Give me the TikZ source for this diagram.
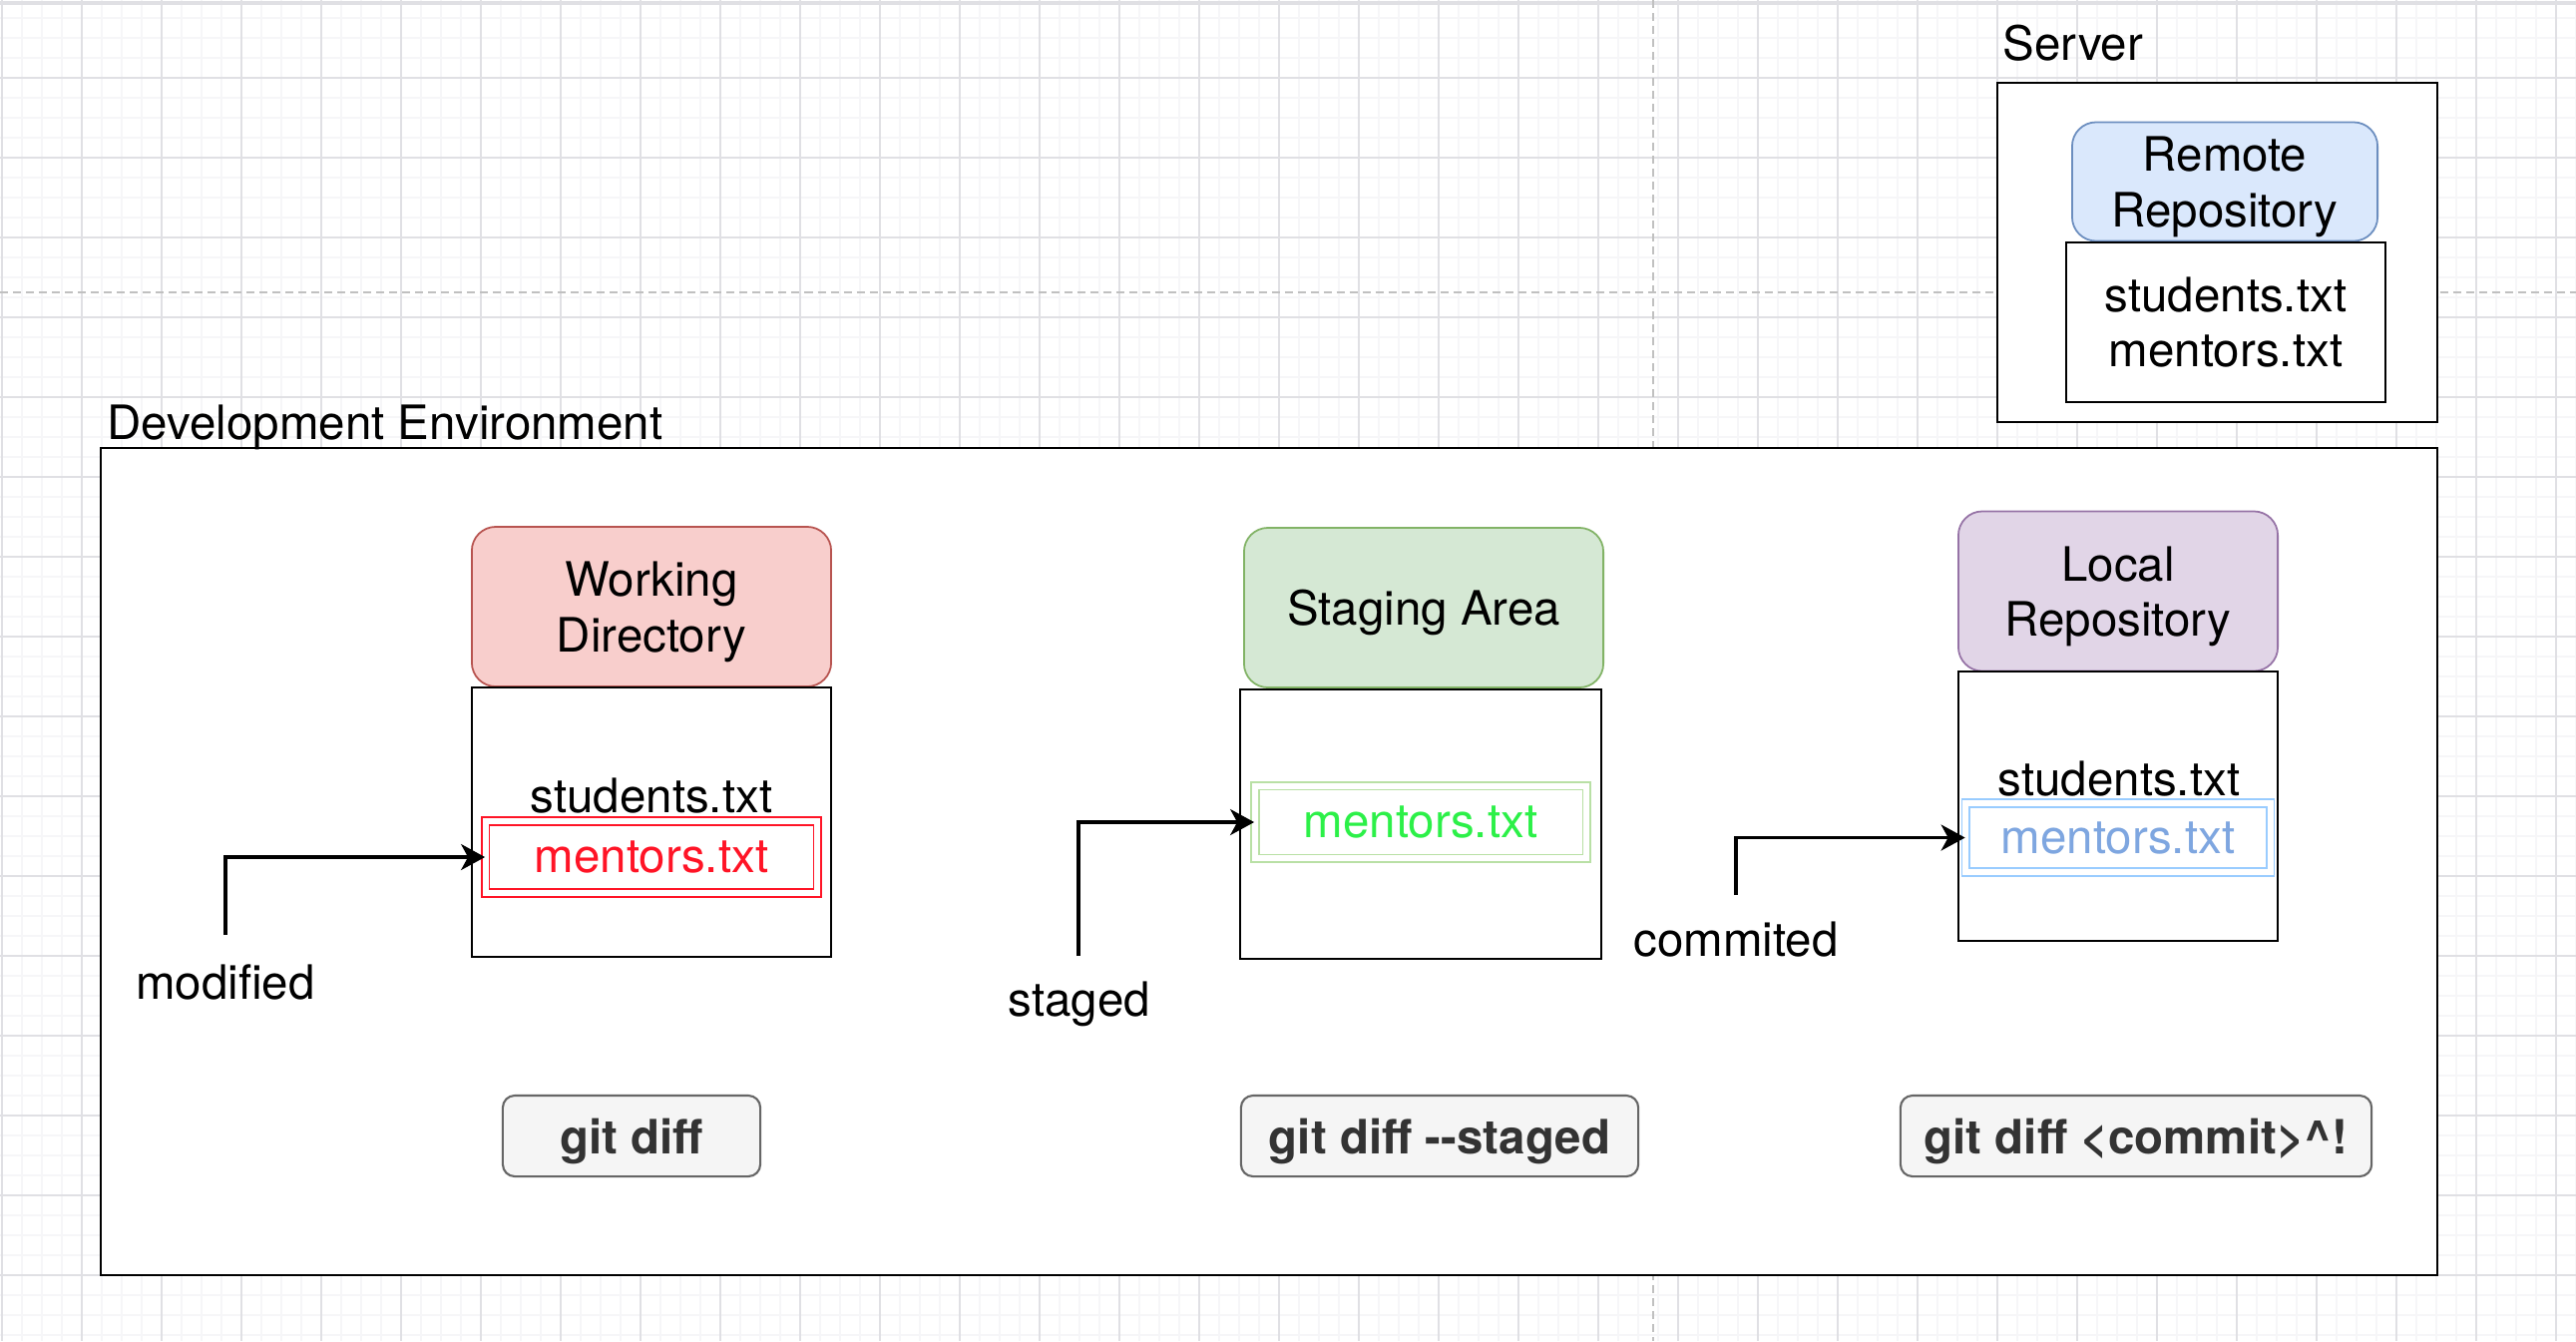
\documentclass[tikz,border=0pt]{standalone}
\usepackage{fontspec}
\setmainfont{TeX Gyre Heros}
\usepackage{xcolor}
\usepackage{tikz}
\usetikzlibrary{arrows.meta}
\definecolor{wdfill}{HTML}{F8CECC}\definecolor{wdline}{HTML}{B85450}
\definecolor{stfill}{HTML}{D5E8D4}\definecolor{stline}{HTML}{82B366}
\definecolor{lrfill}{HTML}{E1D5E7}\definecolor{lrline}{HTML}{9673A6}
\definecolor{rrfill}{HTML}{DAE8FC}\definecolor{rrline}{HTML}{6C8EBF}
\definecolor{cmdfill}{HTML}{F5F5F5}\definecolor{cmdline}{HTML}{666666}\definecolor{cmdtext}{HTML}{333333}
\definecolor{modred}{HTML}{FF1426}
\definecolor{stagedbox}{HTML}{B9E0A5}\definecolor{stagedtext}{HTML}{2CF048}
\definecolor{commitbox}{HTML}{99CCFF}\definecolor{committext}{HTML}{7EA6E0}
\definecolor{gridmaj}{HTML}{E0E0E4}\definecolor{gridmin}{HTML}{F6F6F8}\definecolor{pagedash}{HTML}{C0C0C0}
\newcommand{\diagfont}{\fontsize{13.5}{15.8}\selectfont}
\tikzset{every node/.append style={font=\diagfont}}

\begin{document}
\begin{tikzpicture}[x=0.01cm, y=-0.01cm, >={Stealth[length=0.24cm,width=0.26cm,inset=0.07cm]},
    gridminor/.style={draw=gridmin, line width=0.4pt},
    gridmajor/.style={draw=gridmaj, line width=0.5pt},
    pagebreak/.style={draw=pagedash, line width=0.55pt, dash pattern=on 0.08cm off 0.05cm},
    box/.style={draw, line width=0.6pt, fill=white, inner sep=0pt, align=center},
    fileset/.style={box, minimum height=2.7cm},
    area/.style={draw, line width=0.5pt, rounded corners=0.24cm, inner sep=0pt, align=center, text depth=0pt, minimum width=3.6cm, minimum height=1.6cm},
    changed/.style={draw, double=white, double distance=0.06cm, line width=0.45pt, inner sep=0pt},
    cmd/.style={draw=cmdline, fill=cmdfill, text=cmdtext, font=\diagfont\bfseries, rounded corners=0.12cm, line width=0.6pt, text depth=0pt, minimum height=0.81cm, inner sep=0pt},
    flow/.style={->, line width=0.9pt}]
    \useasboundingbox (0,0) rectangle (2582,1344);
    \fill[white] (0,0) rectangle (2582,1344);
    \foreach \gx in {2,22,...,2582} \draw[gridminor] (\gx,0) -- (\gx,1344);
    \foreach \gy in {18,38,...,1344} \draw[gridminor] (0,\gy) -- (2582,\gy);
    \foreach \gx in {2,82,...,2582} \draw[gridmajor] (\gx,0) -- (\gx,1344);
    \foreach \gy in {78,158,...,1344} \draw[gridmajor] (0,\gy) -- (2582,\gy);
    \draw[gridmajor, line width=1pt] (0,3) -- (2582,3);
    \draw[pagebreak] (1657,0) -- (1657,1344);
    \draw[pagebreak] (0,293) -- (2582,293);

    \node[box, minimum width=4.41cm, minimum height=3.4cm] (server) at (2222.5,253) {};
    \node[anchor=base west, inner sep=0pt] (serverlbl) at (2007,60) {Server};
    \node[area, fill=rrfill, draw=rrline, minimum width=3.06cm, minimum height=1.19cm] (remote) at (2230,182) {Remote\\Repository};
    \node[box, minimum width=3.2cm, minimum height=1.6cm] (remotefiles) at (2231,323) {students.txt\\mentors.txt};

    \node[box, minimum width=23.4cm, minimum height=8.29cm] (devenv) at (1272,863.5) {};
    \node[anchor=base west, inner sep=0pt] (devlbl) at (107,440) {Development Environment};

    \node[area, fill=wdfill, draw=wdline] (workdir) at (653,608) {Working\\Directory};
    \node[fileset, minimum width=3.6cm] (wdfiles) at (653,824) {};
    \node[anchor=base] (wdstudents) at (653,814) {students.txt};
    \node[changed, draw=modred, text=modred, minimum width=3.32cm, minimum height=0.72cm] (wdmentors) at (653,859) {mentors.txt};

    \node[area, fill=stfill, draw=stline] (staging) at (1427,609) {Staging Area};
    \node[fileset, minimum width=3.62cm] (stfiles) at (1424,826) {};
    \node[changed, draw=stagedbox, text=stagedtext, minimum width=3.32cm, minimum height=0.725cm] (stmentors) at (1424,824) {mentors.txt};

    \node[area, fill=lrfill, draw=lrline, minimum width=3.2cm] (localrepo) at (2123,592.5) {Local\\Repository};
    \node[fileset, minimum width=3.2cm] (lrfiles) at (2123,808) {};
    \node[anchor=base] (lrstudents) at (2124,797) {students.txt};
    \node[changed, draw=commitbox, text=committext, minimum width=3.05cm, minimum height=0.69cm] (lrmentors) at (2123,839.5) {mentors.txt};

    \coordinate (modstart) at (226,937);
    \coordinate (stagestart) at (1081,958);
    \coordinate (commitstart) at (1740,897);
    \draw[flow] (modstart) |- (wdmentors.west);
    \draw[flow] (stagestart) |- (stmentors.west);
    \draw[flow] (commitstart) |- (lrmentors.west);
    \node[anchor=base] (modlbl) at (226,1001) {modified};
    \node[anchor=base] (stagelbl) at (1082,1018) {staged};
    \node[anchor=base] (commitlbl) at (1740,958) {commited};

    \node[cmd, minimum width=2.58cm] (diffwd) at (633,1138.5) {git diff};
    \node[cmd, minimum width=3.98cm] (diffstaged) at (1443,1138.5) {git diff -{}-staged};
    \node[cmd, minimum width=4.72cm] (diffcommit) at (2141,1138.5) {git diff <commit>\^{}!};
\end{tikzpicture}
\end{document}
